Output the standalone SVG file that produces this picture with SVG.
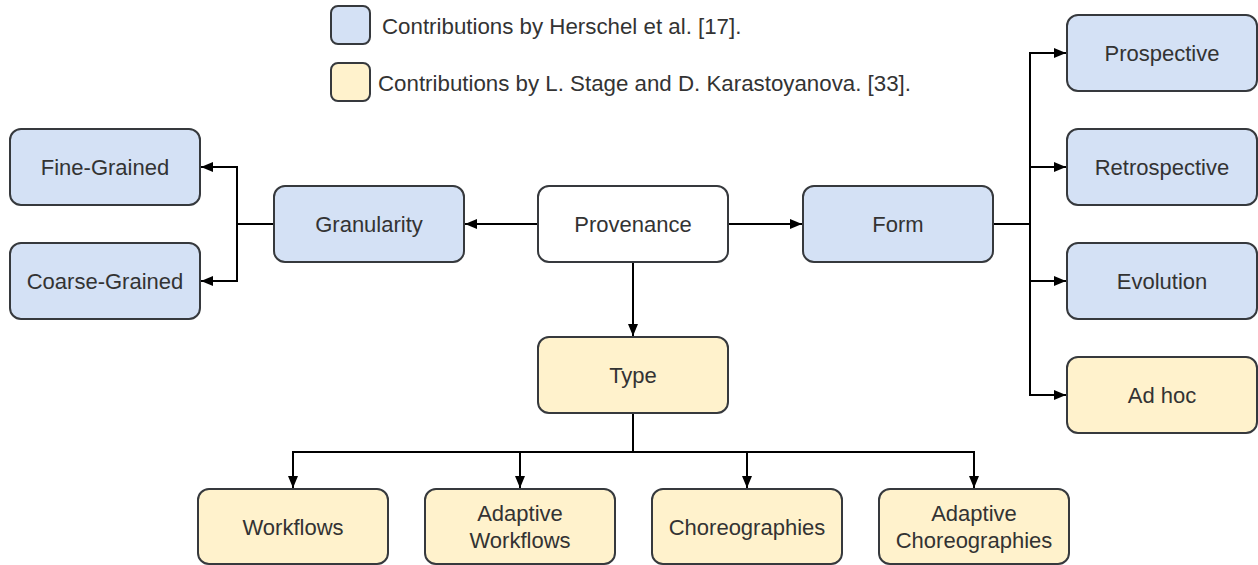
<svg xmlns="http://www.w3.org/2000/svg" width="1258" height="565" viewBox="0 0 1258 565">
<defs>
<style>
.box{stroke:#36393d;stroke-width:2}
.blue{fill:#d4e1f5}
.yellow{fill:#fff2cc}
.white{fill:#ffffff}
.t{font-family:"Liberation Sans",Arial,sans-serif;font-size:22px;fill:#333333;text-anchor:middle}
.lg{font-family:"Liberation Sans",Arial,sans-serif;font-size:22.3px;fill:#333333}
.edge{fill:none;stroke:#000000;stroke-width:2}
</style>
<marker id="arr" markerUnits="userSpaceOnUse" markerWidth="12" markerHeight="10" refX="12" refY="5" orient="auto">
<path d="M0,0 L12,5 L0,10 z" fill="#000000"/>
</marker>
</defs>
<rect width="1258" height="565" fill="#ffffff"/>
<g id="legend">
<rect class="box blue" x="331" y="6" width="39" height="38" rx="7"/>
<text class="lg" x="382" y="34">Contributions by Herschel et al. [17].</text>
<rect class="box yellow" x="331" y="63" width="39" height="38" rx="7"/>
<text class="lg" x="378" y="91">Contributions by L. Stage and D. Karastoyanova. [33].</text>
</g>
<g id="connectors">
<path class="edge" d="M538,224 H465" marker-end="url(#arr)"/>
<path class="edge" d="M274,224 H237 V167 H201" marker-end="url(#arr)"/>
<path class="edge" d="M237,224 V281 H201" marker-end="url(#arr)"/>
<path class="edge" d="M728,224 H802" marker-end="url(#arr)"/>
<path class="edge" d="M993,224 H1030 V53 H1066" marker-end="url(#arr)"/>
<path class="edge" d="M1030,167 H1066" marker-end="url(#arr)"/>
<path class="edge" d="M1030,224 V281 H1066" marker-end="url(#arr)"/>
<path class="edge" d="M1030,281 V395 H1066" marker-end="url(#arr)"/>
<path class="edge" d="M633,262 V336" marker-end="url(#arr)"/>
<path class="edge" d="M633,413 V452 H293 V488" marker-end="url(#arr)"/>
<path class="edge" d="M520,452 V488" marker-end="url(#arr)"/>
<path class="edge" d="M633,452 H974 V488" marker-end="url(#arr)"/>
<path class="edge" d="M747,452 V488" marker-end="url(#arr)"/>
</g>
<g id="provenance">
<rect class="box white" x="538" y="186" width="190" height="76" rx="11"/>
<text class="t" x="633" y="232">Provenance</text>
</g>
<g id="granularity">
<rect class="box blue" x="274" y="186" width="190" height="76" rx="11"/>
<text class="t" x="369" y="232">Granularity</text>
</g>
<g id="fine-grained">
<rect class="box blue" x="10" y="129" width="190" height="76" rx="11"/>
<text class="t" x="105" y="175">Fine-Grained</text>
</g>
<g id="coarse-grained">
<rect class="box blue" x="10" y="243" width="190" height="76" rx="11"/>
<text class="t" x="105" y="289">Coarse-Grained</text>
</g>
<g id="form">
<rect class="box blue" x="803" y="186" width="190" height="76" rx="11"/>
<text class="t" x="898" y="232">Form</text>
</g>
<g id="prospective">
<rect class="box blue" x="1067" y="15" width="190" height="76" rx="11"/>
<text class="t" x="1162" y="61">Prospective</text>
</g>
<g id="retrospective">
<rect class="box blue" x="1067" y="129" width="190" height="76" rx="11"/>
<text class="t" x="1162" y="175">Retrospective</text>
</g>
<g id="evolution">
<rect class="box blue" x="1067" y="243" width="190" height="76" rx="11"/>
<text class="t" x="1162" y="289">Evolution</text>
</g>
<g id="adhoc">
<rect class="box yellow" x="1067" y="357" width="190" height="76" rx="11"/>
<text class="t" x="1162" y="403">Ad hoc</text>
</g>
<g id="type">
<rect class="box yellow" x="538" y="337" width="190" height="76" rx="11"/>
<text class="t" x="633" y="383">Type</text>
</g>
<g id="workflows">
<rect class="box yellow" x="198" y="489" width="190" height="75" rx="11"/>
<text class="t" x="293" y="535">Workflows</text>
</g>
<g id="adaptive-workflows">
<rect class="box yellow" x="425" y="489" width="190" height="75" rx="11"/>
<text class="t" x="520" y="521">Adaptive</text>
<text class="t" x="520" y="548">Workflows</text>
</g>
<g id="choreographies">
<rect class="box yellow" x="652" y="489" width="190" height="75" rx="11"/>
<text class="t" x="747" y="535">Choreographies</text>
</g>
<g id="adaptive-choreographies">
<rect class="box yellow" x="879" y="489" width="190" height="75" rx="11"/>
<text class="t" x="974" y="521">Adaptive</text>
<text class="t" x="974" y="548">Choreographies</text>
</g>
</svg>
